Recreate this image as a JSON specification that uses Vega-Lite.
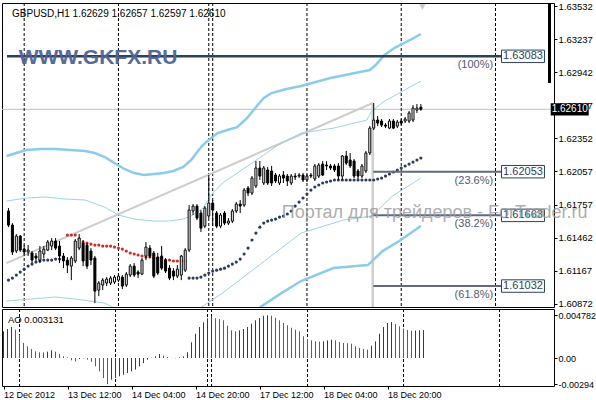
{
"$schema":"https://vega.github.io/schema/vega-lite/v6.json",
"background":"white",
"padding":{"left":1,"top":0,"right":0,"bottom":0},
"bounds":"flush",
"spacing":2,
"config":{"view":{"stroke":"#000000","strokeWidth":1},"font":"Liberation Sans"},
"datasets":{
"candles":[
{"k":0,"o":1.61702,"h":1.61728,"l":1.61558,"c":1.61576},
{"k":1,"o":1.61576,"h":1.61594,"l":1.61309,"c":1.61336},
{"k":2,"o":1.61345,"h":1.61496,"l":1.61327,"c":1.61478},
{"k":3,"o":1.61478,"h":1.61487,"l":1.61336,"c":1.61353},
{"k":4,"o":1.61362,"h":1.61398,"l":1.61300,"c":1.61336},
{"k":5,"o":1.61336,"h":1.61398,"l":1.61300,"c":1.61353},
{"k":6,"o":1.61327,"h":1.61345,"l":1.61237,"c":1.61264},
{"k":7,"o":1.61300,"h":1.61327,"l":1.61256,"c":1.61282},
{"k":8,"o":1.61264,"h":1.61389,"l":1.61237,"c":1.61345},
{"k":9,"o":1.61318,"h":1.61389,"l":1.61282,"c":1.61362},
{"k":10,"o":1.61353,"h":1.61443,"l":1.61345,"c":1.61425},
{"k":11,"o":1.61389,"h":1.61460,"l":1.61353,"c":1.61434},
{"k":12,"o":1.61434,"h":1.61460,"l":1.61353,"c":1.61371},
{"k":13,"o":1.61389,"h":1.61434,"l":1.61237,"c":1.61300},
{"k":14,"o":1.61300,"h":1.61327,"l":1.61192,"c":1.61256},
{"k":15,"o":1.61264,"h":1.61291,"l":1.61148,"c":1.61219},
{"k":16,"o":1.61210,"h":1.61300,"l":1.61085,"c":1.61282},
{"k":17,"o":1.61256,"h":1.61452,"l":1.61237,"c":1.61434},
{"k":18,"o":1.61371,"h":1.61496,"l":1.61353,"c":1.61460},
{"k":19,"o":1.61416,"h":1.61443,"l":1.61210,"c":1.61256},
{"k":20,"o":1.61398,"h":1.61416,"l":1.61183,"c":1.61210},
{"k":21,"o":1.61345,"h":1.61371,"l":1.61219,"c":1.61264},
{"k":22,"o":1.61282,"h":1.61300,"l":1.60880,"c":1.60987},
{"k":23,"o":1.60996,"h":1.61077,"l":1.60942,"c":1.61059},
{"k":24,"o":1.61041,"h":1.61103,"l":1.60996,"c":1.61085},
{"k":25,"o":1.61059,"h":1.61112,"l":1.61032,"c":1.61094},
{"k":26,"o":1.61059,"h":1.61121,"l":1.61041,"c":1.61103},
{"k":27,"o":1.61068,"h":1.61130,"l":1.61050,"c":1.61112},
{"k":28,"o":1.61085,"h":1.61139,"l":1.61068,"c":1.61121},
{"k":29,"o":1.61112,"h":1.61130,"l":1.61005,"c":1.61032},
{"k":30,"o":1.61041,"h":1.61157,"l":1.61023,"c":1.61139},
{"k":31,"o":1.61130,"h":1.61228,"l":1.61112,"c":1.61210},
{"k":32,"o":1.61210,"h":1.61237,"l":1.61112,"c":1.61130},
{"k":33,"o":1.61157,"h":1.61174,"l":1.61103,"c":1.61139},
{"k":34,"o":1.61139,"h":1.61282,"l":1.61130,"c":1.61264},
{"k":35,"o":1.61300,"h":1.61425,"l":1.61264,"c":1.61380},
{"k":36,"o":1.61371,"h":1.61398,"l":1.61282,"c":1.61300},
{"k":37,"o":1.61327,"h":1.61345,"l":1.61103,"c":1.61121},
{"k":38,"o":1.61291,"h":1.61327,"l":1.61130,"c":1.61148},
{"k":39,"o":1.61300,"h":1.61389,"l":1.61174,"c":1.61192},
{"k":40,"o":1.61264,"h":1.61282,"l":1.61148,"c":1.61166},
{"k":41,"o":1.61192,"h":1.61219,"l":1.61085,"c":1.61103},
{"k":42,"o":1.61166,"h":1.61192,"l":1.61085,"c":1.61121},
{"k":43,"o":1.61121,"h":1.61219,"l":1.61103,"c":1.61183},
{"k":44,"o":1.61130,"h":1.61309,"l":1.61085,"c":1.61300},
{"k":45,"o":1.61174,"h":1.61371,"l":1.61157,"c":1.61353},
{"k":46,"o":1.61353,"h":1.61755,"l":1.61336,"c":1.61711},
{"k":47,"o":1.61702,"h":1.61764,"l":1.61666,"c":1.61746},
{"k":48,"o":1.61746,"h":1.61764,"l":1.61621,"c":1.61639},
{"k":49,"o":1.61684,"h":1.61711,"l":1.61514,"c":1.61549},
{"k":50,"o":1.61567,"h":1.61746,"l":1.61549,"c":1.61728},
{"k":51,"o":1.61657,"h":1.62023,"l":1.61639,"c":1.61773},
{"k":52,"o":1.61773,"h":1.61800,"l":1.61567,"c":1.61711},
{"k":53,"o":1.61684,"h":1.61702,"l":1.61549,"c":1.61567},
{"k":54,"o":1.61567,"h":1.61684,"l":1.61549,"c":1.61666},
{"k":55,"o":1.61684,"h":1.61702,"l":1.61576,"c":1.61594},
{"k":56,"o":1.61594,"h":1.61639,"l":1.61576,"c":1.61612},
{"k":57,"o":1.61612,"h":1.61720,"l":1.61594,"c":1.61702},
{"k":58,"o":1.61702,"h":1.61782,"l":1.61684,"c":1.61764},
{"k":59,"o":1.61764,"h":1.61800,"l":1.61684,"c":1.61746},
{"k":60,"o":1.61755,"h":1.61907,"l":1.61737,"c":1.61889},
{"k":61,"o":1.61907,"h":1.61925,"l":1.61835,"c":1.61862},
{"k":62,"o":1.61862,"h":1.62014,"l":1.61844,"c":1.61996},
{"k":63,"o":1.61925,"h":1.62148,"l":1.61907,"c":1.62086},
{"k":64,"o":1.62086,"h":1.62148,"l":1.61979,"c":1.62014},
{"k":65,"o":1.61952,"h":1.62104,"l":1.61934,"c":1.62086},
{"k":66,"o":1.62068,"h":1.62095,"l":1.61934,"c":1.61952},
{"k":67,"o":1.62059,"h":1.62104,"l":1.61925,"c":1.61952},
{"k":68,"o":1.62023,"h":1.62041,"l":1.61952,"c":1.61970},
{"k":69,"o":1.61952,"h":1.62032,"l":1.61934,"c":1.62014},
{"k":70,"o":1.62023,"h":1.62059,"l":1.61952,"c":1.61996},
{"k":71,"o":1.62014,"h":1.62032,"l":1.61925,"c":1.61970},
{"k":72,"o":1.61952,"h":1.62032,"l":1.61934,"c":1.62014},
{"k":73,"o":1.62014,"h":1.62041,"l":1.61979,"c":1.62005},
{"k":74,"o":1.62014,"h":1.62041,"l":1.61996,"c":1.62023},
{"k":75,"o":1.62023,"h":1.62041,"l":1.61961,"c":1.61979},
{"k":76,"o":1.61979,"h":1.62032,"l":1.61961,"c":1.62014},
{"k":77,"o":1.62023,"h":1.62041,"l":1.61996,"c":1.62014},
{"k":78,"o":1.61988,"h":1.62121,"l":1.61970,"c":1.62104},
{"k":79,"o":1.62014,"h":1.62130,"l":1.61996,"c":1.62112},
{"k":80,"o":1.62121,"h":1.62148,"l":1.62014,"c":1.62023},
{"k":81,"o":1.62112,"h":1.62148,"l":1.62068,"c":1.62104},
{"k":82,"o":1.62104,"h":1.62121,"l":1.62068,"c":1.62086},
{"k":83,"o":1.62104,"h":1.62121,"l":1.62050,"c":1.62068},
{"k":84,"o":1.62104,"h":1.62130,"l":1.61979,"c":1.62014},
{"k":85,"o":1.62014,"h":1.62202,"l":1.61979,"c":1.62193},
{"k":86,"o":1.62193,"h":1.62238,"l":1.62112,"c":1.62130},
{"k":87,"o":1.62157,"h":1.62220,"l":1.62086,"c":1.62104},
{"k":88,"o":1.62148,"h":1.62166,"l":1.61996,"c":1.62014},
{"k":89,"o":1.62059,"h":1.62077,"l":1.61988,"c":1.62014},
{"k":90,"o":1.62014,"h":1.62121,"l":1.61996,"c":1.62104},
{"k":91,"o":1.62059,"h":1.62238,"l":1.62041,"c":1.62220},
{"k":92,"o":1.62220,"h":1.62460,"l":1.62202,"c":1.62442},
{"k":93,"o":1.62442,"h":1.62666,"l":1.62425,"c":1.62514},
{"k":94,"o":1.62514,"h":1.62550,"l":1.62460,"c":1.62487},
{"k":95,"o":1.62505,"h":1.62523,"l":1.62451,"c":1.62469},
{"k":96,"o":1.62469,"h":1.62487,"l":1.62442,"c":1.62460},
{"k":97,"o":1.62442,"h":1.62523,"l":1.62434,"c":1.62505},
{"k":98,"o":1.62505,"h":1.62523,"l":1.62434,"c":1.62442},
{"k":99,"o":1.62460,"h":1.62514,"l":1.62442,"c":1.62496},
{"k":100,"o":1.62505,"h":1.62523,"l":1.62469,"c":1.62487},
{"k":101,"o":1.62505,"h":1.62541,"l":1.62487,"c":1.62523},
{"k":102,"o":1.62505,"h":1.62595,"l":1.62487,"c":1.62577},
{"k":103,"o":1.62514,"h":1.62648,"l":1.62496,"c":1.62621},
{"k":104,"o":1.62603,"h":1.62657,"l":1.62577,"c":1.62621},
{"k":105,"o":1.62629,"h":1.62657,"l":1.62597,"c":1.62610}
],
"sar":[
{"k":0,"v":1.61085,"t":"up"},{"k":1,"v":1.61103,"t":"up"},{"k":2,"v":1.61130,"t":"up"},{"k":3,"v":1.61157,"t":"up"},{"k":4,"v":1.61183,"t":"up"},{"k":5,"v":1.61210,"t":"up"},{"k":6,"v":1.61228,"t":"up"},{"k":7,"v":1.61246,"t":"up"},{"k":8,"v":1.61256,"t":"up"},{"k":9,"v":1.61264,"t":"up"},{"k":10,"v":1.61264,"t":"up"},{"k":11,"v":1.61264,"t":"up"},{"k":12,"v":1.61273,"t":"up"},{"k":13,"v":1.61273,"t":"up"},{"k":14,"v":1.61273,"t":"up"},
{"k":15,"v":1.61487,"t":"down"},{"k":16,"v":1.61487,"t":"down"},{"k":17,"v":1.61487,"t":"down"},{"k":18,"v":1.61452,"t":"down"},{"k":19,"v":1.61425,"t":"down"},{"k":20,"v":1.61416,"t":"down"},{"k":21,"v":1.61407,"t":"down"},{"k":22,"v":1.61398,"t":"down"},{"k":23,"v":1.61398,"t":"down"},{"k":24,"v":1.61389,"t":"down"},{"k":25,"v":1.61389,"t":"down"},{"k":26,"v":1.61389,"t":"down"},{"k":27,"v":1.61380,"t":"down"},{"k":28,"v":1.61371,"t":"down"},{"k":29,"v":1.61362,"t":"down"},{"k":30,"v":1.61345,"t":"down"},{"k":31,"v":1.61327,"t":"down"},{"k":32,"v":1.61318,"t":"down"},{"k":33,"v":1.61309,"t":"down"},{"k":34,"v":1.61300,"t":"down"},{"k":35,"v":1.61291,"t":"down"},{"k":36,"v":1.61291,"t":"down"},{"k":37,"v":1.61282,"t":"down"},{"k":38,"v":1.61282,"t":"down"},{"k":39,"v":1.61273,"t":"down"},{"k":40,"v":1.61264,"t":"down"},{"k":41,"v":1.61264,"t":"down"},{"k":42,"v":1.61256,"t":"down"},{"k":43,"v":1.61256,"t":"down"},{"k":44,"v":1.61256,"t":"down"},{"k":45,"v":1.61256,"t":"down"},
{"k":46,"v":1.61103,"t":"up"},{"k":47,"v":1.61103,"t":"up"},{"k":48,"v":1.61103,"t":"up"},{"k":49,"v":1.61112,"t":"up"},{"k":50,"v":1.61130,"t":"up"},{"k":51,"v":1.61148,"t":"up"},{"k":52,"v":1.61166,"t":"up"},{"k":53,"v":1.61174,"t":"up"},{"k":54,"v":1.61183,"t":"up"},{"k":55,"v":1.61192,"t":"up"},{"k":56,"v":1.61210,"t":"up"},{"k":57,"v":1.61228,"t":"up"},{"k":58,"v":1.61246,"t":"up"},{"k":59,"v":1.61273,"t":"up"},{"k":60,"v":1.61318,"t":"up"},{"k":61,"v":1.61371,"t":"up"},{"k":62,"v":1.61443,"t":"up"},{"k":63,"v":1.61505,"t":"up"},{"k":64,"v":1.61558,"t":"up"},{"k":65,"v":1.61594,"t":"up"},{"k":66,"v":1.61612,"t":"up"},{"k":67,"v":1.61621,"t":"up"},{"k":68,"v":1.61630,"t":"up"},{"k":69,"v":1.61648,"t":"up"},{"k":70,"v":1.61657,"t":"up"},{"k":71,"v":1.61675,"t":"up"},{"k":72,"v":1.61702,"t":"up"},{"k":73,"v":1.61746,"t":"up"},{"k":74,"v":1.61782,"t":"up"},{"k":75,"v":1.61818,"t":"up"},{"k":76,"v":1.61853,"t":"up"},{"k":77,"v":1.61889,"t":"up"},{"k":78,"v":1.61916,"t":"up"},{"k":79,"v":1.61934,"t":"up"},{"k":80,"v":1.61952,"t":"up"},{"k":81,"v":1.61961,"t":"up"},{"k":82,"v":1.61970,"t":"up"},{"k":83,"v":1.61979,"t":"up"},{"k":84,"v":1.61979,"t":"up"},{"k":85,"v":1.61979,"t":"up"},{"k":86,"v":1.61979,"t":"up"},{"k":87,"v":1.61979,"t":"up"},{"k":88,"v":1.61979,"t":"up"},{"k":89,"v":1.61979,"t":"up"},{"k":90,"v":1.61979,"t":"up"},{"k":91,"v":1.61979,"t":"up"},{"k":92,"v":1.61979,"t":"up"},{"k":93,"v":1.61979,"t":"up"},{"k":94,"v":1.61988,"t":"up"},{"k":95,"v":1.61996,"t":"up"},{"k":96,"v":1.62014,"t":"up"},{"k":97,"v":1.62032,"t":"up"},{"k":98,"v":1.62050,"t":"up"},{"k":99,"v":1.62068,"t":"up"},{"k":100,"v":1.62086,"t":"up"},{"k":101,"v":1.62104,"t":"up"},{"k":102,"v":1.62121,"t":"up"},{"k":103,"v":1.62139,"t":"up"},{"k":104,"v":1.62157,"t":"up"},{"k":105,"v":1.62175,"t":"up"}
],
"bands":[
{"s":"up2","k":-0.5,"p":1.62193},{"s":"up2","k":2,"p":1.62220},{"s":"up2","k":4.5,"p":1.62246},{"s":"up2","k":8.25,"p":1.62255},{"s":"up2","k":12,"p":1.62255},{"s":"up2","k":15.75,"p":1.62246},{"s":"up2","k":19.5,"p":1.62238},{"s":"up2","k":22,"p":1.62220},{"s":"up2","k":24.5,"p":1.62184},{"s":"up2","k":27,"p":1.62130},{"s":"up2","k":29.5,"p":1.62077},{"s":"up2","k":32,"p":1.62041},{"s":"up2","k":34.5,"p":1.62023},{"s":"up2","k":37,"p":1.62032},{"s":"up2","k":39.5,"p":1.62041},{"s":"up2","k":42,"p":1.62059},{"s":"up2","k":44.5,"p":1.62095},{"s":"up2","k":46.5,"p":1.62157},{"s":"up2","k":48.25,"p":1.62238},{"s":"up2","k":49.5,"p":1.62291},{"s":"up2","k":51,"p":1.62336},{"s":"up2","k":53.25,"p":1.62398},{"s":"up2","k":55.75,"p":1.62425},{"s":"up2","k":58.25,"p":1.62451},{"s":"up2","k":60.75,"p":1.62532},{"s":"up2","k":63.25,"p":1.62639},{"s":"up2","k":65,"p":1.62711},{"s":"up2","k":67,"p":1.62755},{"s":"up2","k":70.75,"p":1.62791},{"s":"up2","k":74.5,"p":1.62818},{"s":"up2","k":78.25,"p":1.62854},{"s":"up2","k":82,"p":1.62889},{"s":"up2","k":85.75,"p":1.62916},{"s":"up2","k":89.5,"p":1.62943},{"s":"up2","k":92,"p":1.62961},{"s":"up2","k":93.5,"p":1.63005},{"s":"up2","k":95.75,"p":1.63095},{"s":"up2","k":98.25,"p":1.63157},{"s":"up2","k":100.75,"p":1.63202},{"s":"up2","k":103.25,"p":1.63247},{"s":"up2","k":105,"p":1.63282},
{"s":"up1","k":-0.5,"p":1.61791},{"s":"up1","k":4.5,"p":1.61818},{"s":"up1","k":9.5,"p":1.61827},{"s":"up1","k":14.5,"p":1.61809},{"s":"up1","k":19.5,"p":1.61800},{"s":"up1","k":24.5,"p":1.61737},{"s":"up1","k":28,"p":1.61666},{"s":"up1","k":32,"p":1.61630},{"s":"up1","k":37,"p":1.61612},{"s":"up1","k":40.75,"p":1.61612},{"s":"up1","k":44.5,"p":1.61630},{"s":"up1","k":47,"p":1.61666},{"s":"up1","k":49.5,"p":1.61728},{"s":"up1","k":52,"p":1.61862},{"s":"up1","k":54.5,"p":1.61952},{"s":"up1","k":58.25,"p":1.62041},{"s":"up1","k":62,"p":1.62130},{"s":"up1","k":65.75,"p":1.62220},{"s":"up1","k":68.25,"p":1.62282},{"s":"up1","k":74.5,"p":1.62398},{"s":"up1","k":82.75,"p":1.62442},{"s":"up1","k":91.25,"p":1.62514},{"s":"up1","k":92.5,"p":1.62595},{"s":"up1","k":95.75,"p":1.62684},{"s":"up1","k":99.5,"p":1.62755},{"s":"up1","k":105,"p":1.62862},
{"s":"lo1","k":-0.5,"p":1.60898},{"s":"lo1","k":5.75,"p":1.60916},{"s":"lo1","k":12,"p":1.60934},{"s":"lo1","k":17,"p":1.60916},{"s":"lo1","k":24.5,"p":1.60880},{"s":"lo1","k":29.5,"p":1.60791},{"s":"lo1","k":37,"p":1.60719},{"s":"lo1","k":44.5,"p":1.60737},{"s":"lo1","k":49.5,"p":1.60853},{"s":"lo1","k":54.5,"p":1.60969},{"s":"lo1","k":59.5,"p":1.61103},{"s":"lo1","k":64.5,"p":1.61237},{"s":"lo1","k":69.5,"p":1.61371},{"s":"lo1","k":74.5,"p":1.61505},{"s":"lo1","k":85.25,"p":1.61621},{"s":"lo1","k":92.5,"p":1.61657},{"s":"lo1","k":97.75,"p":1.61835},{"s":"lo1","k":105,"p":1.61996},
{"s":"lo2","k":62,"p":1.60791},{"s":"lo2","k":64.5,"p":1.60853},{"s":"lo2","k":69.5,"p":1.60969},{"s":"lo2","k":74.5,"p":1.61077},{"s":"lo2","k":82.75,"p":1.61193},{"s":"lo2","k":91.5,"p":1.61219},{"s":"lo2","k":95.25,"p":1.61344},{"s":"lo2","k":99.5,"p":1.61434},{"s":"lo2","k":105,"p":1.61568}
],
"ao":[
{"k":0,"ao":0.00299,"d":"up"},{"k":1,"ao":0.00325,"d":"up"},{"k":2,"ao":0.00347,"d":"up"},{"k":3,"ao":0.00317,"d":"down"},{"k":4,"ao":0.00261,"d":"down"},{"k":5,"ao":0.00168,"d":"down"},{"k":6,"ao":0.00131,"d":"down"},{"k":7,"ao":0.00101,"d":"down"},{"k":8,"ao":0.00075,"d":"down"},{"k":9,"ao":0.00064,"d":"down"},{"k":10,"ao":0.00062,"d":"down"},{"k":11,"ao":0.00071,"d":"up"},{"k":12,"ao":0.00086,"d":"up"},{"k":13,"ao":0.00071,"d":"down"},{"k":14,"ao":0.00045,"d":"down"},{"k":15,"ao":0.00019,"d":"down"},{"k":16,"ao":0.00008,"d":"down"},{"k":17,"ao":-0.00026,"d":"down"},{"k":18,"ao":-0.00037,"d":"down"},{"k":19,"ao":-0.00011,"d":"up"},{"k":20,"ao":-0.00003,"d":"up"},{"k":21,"ao":-0.00019,"d":"down"},{"k":22,"ao":-0.00041,"d":"down"},{"k":23,"ao":-0.00093,"d":"down"},{"k":24,"ao":-0.00149,"d":"down"},{"k":25,"ao":-0.00224,"d":"down"},{"k":26,"ao":-0.00294,"d":"down"},{"k":27,"ao":-0.00243,"d":"up"},{"k":28,"ao":-0.00224,"d":"up"},{"k":29,"ao":-0.00205,"d":"up"},{"k":30,"ao":-0.00187,"d":"up"},{"k":31,"ao":-0.00168,"d":"up"},{"k":32,"ao":-0.00149,"d":"up"},{"k":33,"ao":-0.00131,"d":"up"},{"k":34,"ao":-0.00093,"d":"up"},{"k":35,"ao":-0.00056,"d":"up"},{"k":36,"ao":-0.00019,"d":"up"},{"k":37,"ao":0.00003,"d":"up"},{"k":38,"ao":0.00019,"d":"up"},{"k":39,"ao":0.00045,"d":"up"},{"k":40,"ao":0.00026,"d":"down"},{"k":41,"ao":0.00011,"d":"down"},{"k":42,"ao":0.00002,"d":"down"},{"k":43,"ao":-0.00003,"d":"down"},{"k":44,"ao":0.00008,"d":"up"},{"k":45,"ao":0.00019,"d":"up"},{"k":46,"ao":0.00064,"d":"up"},{"k":47,"ao":0.00176,"d":"up"},{"k":48,"ao":0.00272,"d":"up"},{"k":49,"ao":0.00347,"d":"up"},{"k":50,"ao":0.00400,"d":"up"},{"k":51,"ao":0.00445,"d":"up"},{"k":52,"ao":0.00467,"d":"up"},{"k":53,"ao":0.00445,"d":"down"},{"k":54,"ao":0.00437,"d":"down"},{"k":55,"ao":0.00422,"d":"down"},{"k":56,"ao":0.00362,"d":"down"},{"k":57,"ao":0.00310,"d":"down"},{"k":58,"ao":0.00299,"d":"down"},{"k":59,"ao":0.00310,"d":"up"},{"k":60,"ao":0.00325,"d":"up"},{"k":61,"ao":0.00347,"d":"up"},{"k":62,"ao":0.00384,"d":"up"},{"k":63,"ao":0.00422,"d":"up"},{"k":64,"ao":0.00448,"d":"up"},{"k":65,"ao":0.00474,"d":"up"},{"k":66,"ao":0.004782,"d":"up"},{"k":67,"ao":0.00474,"d":"down"},{"k":68,"ao":0.00451,"d":"down"},{"k":69,"ao":0.00422,"d":"down"},{"k":70,"ao":0.00392,"d":"down"},{"k":71,"ao":0.00366,"d":"down"},{"k":72,"ao":0.00339,"d":"down"},{"k":73,"ao":0.00317,"d":"down"},{"k":74,"ao":0.00299,"d":"down"},{"k":75,"ao":0.00243,"d":"down"},{"k":76,"ao":0.00213,"d":"down"},{"k":77,"ao":0.00198,"d":"down"},{"k":78,"ao":0.00187,"d":"down"},{"k":79,"ao":0.00183,"d":"down"},{"k":80,"ao":0.00187,"d":"up"},{"k":81,"ao":0.00198,"d":"up"},{"k":82,"ao":0.00205,"d":"up"},{"k":83,"ao":0.00198,"d":"down"},{"k":84,"ao":0.00179,"d":"down"},{"k":85,"ao":0.00168,"d":"down"},{"k":86,"ao":0.00166,"d":"down"},{"k":87,"ao":0.00160,"d":"down"},{"k":88,"ao":0.00131,"d":"down"},{"k":89,"ao":0.00112,"d":"down"},{"k":90,"ao":0.00101,"d":"down"},{"k":91,"ao":0.00093,"d":"down"},{"k":92,"ao":0.00138,"d":"up"},{"k":93,"ao":0.00187,"d":"up"},{"k":94,"ao":0.00272,"d":"up"},{"k":95,"ao":0.00347,"d":"up"},{"k":96,"ao":0.00392,"d":"up"},{"k":97,"ao":0.00403,"d":"up"},{"k":98,"ao":0.00380,"d":"down"},{"k":99,"ao":0.00355,"d":"down"},{"k":100,"ao":0.00330,"d":"down"},{"k":101,"ao":0.00315,"d":"down"},{"k":102,"ao":0.00305,"d":"down"},{"k":103,"ao":0.00307,"d":"up"},{"k":104,"ao":0.00310,"d":"up"},{"k":105,"ao":0.003131,"d":"up"}
],
"seps":[{"k":4},{"k":28},{"k":51},{"k":52},{"k":76},{"k":100},{"k":124}],
"trend":[{"k":-0.5,"p":1.61237},{"k":92.75,"p":1.62666}],
"fibv":[{"k":92.75,"p0":1.62666,"p1":1.6080}],
"fib":[{"p":1.63083,"pct":"(100%)","lab":"1.63083"},{"p":1.62053,"pct":"(23.6%)","lab":"1.62053"},{"p":1.61663,"pct":"(38.2%)","lab":"1.61663"},{"p":1.61032,"pct":"(61.8%)","lab":"1.61032"}],
"cur":[{"p":1.6261,"lab":"1.62610"}],
"texts":[{"t":"GBPUSD,H1  1.62629 1.62657 1.62597 1.62610"}]
},
"vconcat":[
{
"width":552,"height":304,
"resolve":{"axis":{"x":"independent","y":"independent"}},
"layer":[
{"data":{"name":"cur"},"mark":{"type":"rule","color":"#c0c0c0","strokeWidth":1},
 "encoding":{"y":{"field":"p","type":"quantitative","scale":{"domain":[1.60845,1.63559],"nice":false,"zero":false},"axis":{"orient":"right","values":[1.63532,1.63237,1.62942,1.62647,1.62352,1.62057,1.61757,1.61462,1.61167,1.60872],"format":".5f","title":null,"grid":false,"domain":false,"ticks":true,"tickSize":3,"tickColor":"#000000","labelPadding":1,"labelFont":"Liberation Sans","labelFontSize":9.5,"labelColor":"#000000","labelBaseline":"middle","labelFlush":false,"labelOverlap":false,"labelBound":false}}}},
{"data":{"name":"seps"},"mark":{"type":"rule","color":"#000000","strokeWidth":1,"strokeDash":[3,2]},
 "encoding":{"x":{"field":"k","type":"quantitative","scale":{"domain":[-0.375,137.625],"nice":false,"zero":false},"axis":null}}},
{"data":{"name":"trend"},"mark":{"type":"line","color":"#cdcdcd","strokeWidth":2,"clip":true},
 "encoding":{"x":{"field":"k","type":"quantitative","scale":{"domain":[-0.375,137.625],"nice":false,"zero":false},"axis":null},
  "y":{"field":"p","type":"quantitative","scale":{"domain":[1.60845,1.63559],"nice":false,"zero":false},"axis":null}}},
{"data":{"name":"fibv"},"mark":{"type":"rule","color":"#cfcfcf","strokeWidth":2.5,"clip":true},
 "encoding":{"x":{"field":"k","type":"quantitative","scale":{"domain":[-0.375,137.625],"nice":false,"zero":false},"axis":null},
  "y":{"field":"p0","type":"quantitative","scale":{"domain":[1.60845,1.63559],"nice":false,"zero":false},"axis":null},"y2":{"field":"p1"}}},
{"data":{"name":"bands"},"transform":[{"filter":"datum.s=='up2' || datum.s=='lo2'"}],"mark":{"type":"line","color":"#8ccbea","strokeWidth":2.5,"clip":true},
 "encoding":{"x":{"field":"k","type":"quantitative","scale":{"domain":[-0.375,137.625],"nice":false,"zero":false},"axis":null},
  "y":{"field":"p","type":"quantitative","scale":{"domain":[1.60845,1.63559],"nice":false,"zero":false},"axis":null},"detail":{"field":"s"}}},
{"data":{"name":"bands"},"transform":[{"filter":"datum.s=='up1' || datum.s=='lo1'"}],"mark":{"type":"line","color":"#9ad2ec","strokeWidth":1,"clip":true},
 "encoding":{"x":{"field":"k","type":"quantitative","scale":{"domain":[-0.375,137.625],"nice":false,"zero":false},"axis":null},
  "y":{"field":"p","type":"quantitative","scale":{"domain":[1.60845,1.63559],"nice":false,"zero":false},"axis":null},"detail":{"field":"s"}}},
{"data":{"name":"sar"},"mark":{"type":"point","shape":"circle","filled":true,"size":10,"opacity":1},
 "encoding":{"x":{"field":"k","type":"quantitative","scale":{"domain":[-0.375,137.625],"nice":false,"zero":false},"axis":null},
  "y":{"field":"v","type":"quantitative","scale":{"domain":[1.60845,1.63559],"nice":false,"zero":false},"axis":null},
  "color":{"field":"t","type":"nominal","scale":{"domain":["up","down"],"range":["#2b3d5a","#cc2e2a"]},"legend":null}}},
{"data":{"name":"candles"},"mark":{"type":"rule","color":"#000000","strokeWidth":1},
 "encoding":{"x":{"field":"k","type":"quantitative","scale":{"domain":[-0.375,137.625],"nice":false,"zero":false},"axis":null},
  "y":{"field":"l","type":"quantitative","scale":{"domain":[1.60845,1.63559],"nice":false,"zero":false},"axis":null},"y2":{"field":"h"}}},
{"data":{"name":"candles"},"mark":{"type":"bar","orient":"vertical","width":2,"stroke":"#000000","strokeWidth":1},
 "encoding":{"x":{"field":"k","type":"quantitative","scale":{"domain":[-0.375,137.625],"nice":false,"zero":false},"axis":null},
  "y":{"field":"o","type":"quantitative","scale":{"domain":[1.60845,1.63559],"nice":false,"zero":false},"axis":null},"y2":{"field":"c"},
  "fill":{"condition":{"test":"datum.c > datum.o","value":"#ffffff"},"value":"#000000"}}},
{"data":{"name":"fib"},"transform":[{"filter":"datum.p < 1.63"}],"mark":{"type":"rule","color":"#5e6a82","strokeWidth":2},
 "encoding":{"x":{"datum":92.9,"type":"quantitative","scale":{"domain":[-0.375,137.625],"nice":false,"zero":false},"axis":null},"x2":{"datum":125.6},
  "y":{"field":"p","type":"quantitative","scale":{"domain":[1.60845,1.63559],"nice":false,"zero":false},"axis":null}}},
{"data":{"name":"fib"},"transform":[{"filter":"datum.p > 1.63"}],"mark":{"type":"rule","color":"#2c4259","strokeWidth":2.5},
 "encoding":{"x":{"datum":-0.375,"type":"quantitative","scale":{"domain":[-0.375,137.625],"nice":false,"zero":false},"axis":null},"x2":{"datum":125.6},
  "y":{"field":"p","type":"quantitative","scale":{"domain":[1.60845,1.63559],"nice":false,"zero":false},"axis":null}}},
{"data":{"name":"fib"},"mark":{"type":"text","align":"right","baseline":"middle","dy":9,"fontSize":11,"color":"#4f5b73","font":"Liberation Sans"},
 "encoding":{"x":{"datum":123.4,"type":"quantitative","scale":{"domain":[-0.375,137.625],"nice":false,"zero":false},"axis":null},
  "y":{"field":"p","type":"quantitative","scale":{"domain":[1.60845,1.63559],"nice":false,"zero":false},"axis":null},"text":{"field":"pct"}}},
{"data":{"name":"fib"},"mark":{"type":"point","shape":"M-1,-0.29H1V0.29H-1Z","size":1849,"fill":"#ffffff","stroke":"#2c4259","strokeWidth":1,"opacity":1,"fillOpacity":1},
 "encoding":{"x":{"datum":131,"type":"quantitative","scale":{"domain":[-0.375,137.625],"nice":false,"zero":false},"axis":null},
  "y":{"field":"p","type":"quantitative","scale":{"domain":[1.60845,1.63559],"nice":false,"zero":false},"axis":null}}},
{"data":{"name":"fib"},"mark":{"type":"text","align":"center","baseline":"middle","fontSize":11,"color":"#2c4259","font":"Liberation Sans"},
 "encoding":{"x":{"datum":131,"type":"quantitative","scale":{"domain":[-0.375,137.625],"nice":false,"zero":false},"axis":null},
  "y":{"field":"p","type":"quantitative","scale":{"domain":[1.60845,1.63559],"nice":false,"zero":false},"axis":null},"text":{"field":"lab"}}},
{"data":{"name":"texts"},"mark":{"type":"text","text":"WWW.GKFX.RU","align":"left","baseline":"alphabetic","font":"Liberation Sans","fontWeight":"bold","fontSize":21,"color":"#4f6494","opacity":0.95},
 "encoding":{"x":{"datum":2.6,"type":"quantitative","scale":{"domain":[-0.375,137.625],"nice":false,"zero":false},"axis":null},
  "y":{"datum":1.63014,"type":"quantitative","scale":{"domain":[1.60845,1.63559],"nice":false,"zero":false},"axis":null}}},
{"data":{"name":"texts"},"mark":{"type":"text","text":"Портал для трейдеров - ForTrader.ru","align":"left","baseline":"alphabetic","font":"Liberation Sans","fontSize":18,"color":"#9a9a9a","opacity":0.8},
 "encoding":{"x":{"datum":69.6,"type":"quantitative","scale":{"domain":[-0.375,137.625],"nice":false,"zero":false},"axis":null},
  "y":{"datum":1.61639,"type":"quantitative","scale":{"domain":[1.60845,1.63559],"nice":false,"zero":false},"axis":null}}},
{"data":{"name":"texts"},"mark":{"type":"text","align":"left","baseline":"alphabetic","font":"Liberation Sans","fontSize":10,"color":"#000000"},
 "encoding":{"x":{"datum":0.9,"type":"quantitative","scale":{"domain":[-0.375,137.625],"nice":false,"zero":false},"axis":null},
  "y":{"datum":1.63438,"type":"quantitative","scale":{"domain":[1.60845,1.63559],"nice":false,"zero":false},"axis":null},"text":{"field":"t"}}},
{"data":{"name":"texts"},"mark":{"type":"point","shape":"triangle-down","filled":true,"size":40,"color":"#c8c8c8","opacity":1},
 "encoding":{"x":{"datum":105.4,"type":"quantitative","scale":{"domain":[-0.375,137.625],"nice":false,"zero":false},"axis":null},
  "y":{"datum":1.63523,"type":"quantitative","scale":{"domain":[1.60845,1.63559],"nice":false,"zero":false},"axis":null}}},
{"data":{"name":"texts"},"mark":{"type":"rule","color":"#000000","strokeWidth":3},
 "encoding":{"x":{"datum":137.75,"type":"quantitative","scale":{"domain":[-0.375,137.625],"nice":false,"zero":false},"axis":null},
  "y":{"datum":1.63559,"type":"quantitative","scale":{"domain":[1.60845,1.63559],"nice":false,"zero":false},"axis":null},"y2":{"datum":1.62845}}},
{"data":{"name":"cur"},"mark":{"type":"point","shape":"M-1,-0.32H1V0.32H-1Z","size":1444,"fill":"#000000","stroke":null,"opacity":1,"fillOpacity":1},
 "encoding":{"x":{"datum":142.9,"type":"quantitative","scale":{"domain":[-0.375,137.625],"nice":false,"zero":false},"axis":null},
  "y":{"field":"p","type":"quantitative","scale":{"domain":[1.60845,1.63559],"nice":false,"zero":false},"axis":null}}},
{"data":{"name":"cur"},"mark":{"type":"text","align":"center","baseline":"middle","fontSize":10,"color":"#ffffff","font":"Liberation Sans"},
 "encoding":{"x":{"datum":142.9,"type":"quantitative","scale":{"domain":[-0.375,137.625],"nice":false,"zero":false},"axis":null},
  "y":{"field":"p","type":"quantitative","scale":{"domain":[1.60845,1.63559],"nice":false,"zero":false},"axis":null},"text":{"field":"lab"}}}
]
},
{
"width":552,"height":77,
"resolve":{"axis":{"x":"independent","y":"independent"}},
"layer":[
{"data":{"name":"seps"},"mark":{"type":"rule","color":"#000000","strokeWidth":1,"strokeDash":[3,2]},
 "encoding":{"x":{"field":"k","type":"quantitative","scale":{"domain":[-0.375,137.625],"nice":false,"zero":false},
  "axis":{"orient":"bottom","values":[0,16,32,48,64,80,96],"labelExpr":"['12 Dec 2012','13 Dec 12:00','14 Dec 04:00','14 Dec 20:00','17 Dec 12:00','18 Dec 04:00','18 Dec 20:00'][round(datum.value/16)]","labelAlign":"left","title":null,"grid":false,"domain":false,"ticks":true,"tickSize":3,"tickColor":"#000000","labelPadding":1,"labelFont":"Liberation Sans","labelFontSize":9,"labelColor":"#000000","labelFlush":false,"labelOverlap":false,"labelBound":false}}}},
{"data":{"name":"ao"},"mark":{"type":"rule","strokeWidth":1},
 "encoding":{"x":{"field":"k","type":"quantitative","scale":{"domain":[-0.375,137.625],"nice":false,"zero":false},"axis":null},
  "y":{"field":"ao","type":"quantitative","scale":{"domain":[-0.003136,0.005488],"nice":false,"zero":false},
   "axis":{"orient":"right","values":[0.004782,0,-0.00294],"labelExpr":"datum.value == 0 ? '0.00' : (datum.value > 0 ? '0.004782' : '-0.00294')","title":null,"grid":false,"domain":false,"ticks":true,"tickSize":3,"tickColor":"#000000","labelPadding":1,"labelFont":"Liberation Sans","labelFontSize":9,"labelColor":"#000000","labelBaseline":"middle","labelFlush":false,"labelOverlap":false,"labelBound":false}},
  "y2":{"datum":0},
  "color":{"field":"d","type":"nominal","scale":{"domain":["up","down"],"range":["#6b778b","#c0282d"]},"legend":null}}},
{"data":{"name":"texts"},"mark":{"type":"text","text":"AO 0.003131","align":"left","baseline":"alphabetic","font":"Liberation Sans","fontSize":9.5,"color":"#000000"},
 "encoding":{"x":{"datum":1.1,"type":"quantitative","scale":{"domain":[-0.375,137.625],"nice":false,"zero":false},"axis":null},
  "y":{"datum":0.00392,"type":"quantitative","scale":{"domain":[-0.003136,0.005488],"nice":false,"zero":false},"axis":null}}}
]
}
]
}
